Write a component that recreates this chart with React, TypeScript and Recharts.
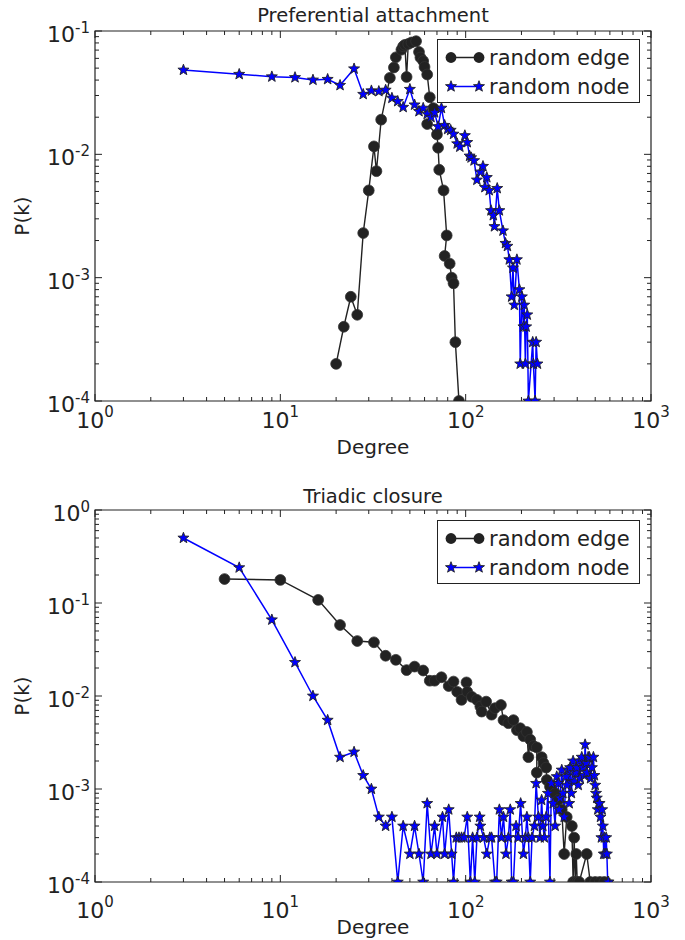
import React from 'react';
import { LineChart, Line, XAxis, YAxis, ReferenceArea, Legend } from 'recharts';

const FONT = '"DejaVu Sans", Verdana, sans-serif';
const INK = '#222222';
const BLUE = '#0000ff';

const seriesNames = ['random edge', 'random node'];
const titles = ['Preferential attachment', 'Triadic closure'];
const xLabel = 'Degree';
const yLabel = 'P(k)';

// Preferential attachment, random edge
const paEdgeK = [20, 22, 24, 26, 28, 30, 32, 33, 35, 39, 41, 42, 45, 46, 47, 48, 49, 51, 54, 56, 57, 59, 60, 62, 64, 67, 62, 70, 71, 72, 76, 79, 77, 82, 84, 86, 88, 92];
const paEdgeP = [0.0002, 0.0004, 0.0007, 0.0005, 0.0023, 0.0051, 0.0116, 0.0073, 0.0191, 0.0417, 0.0506, 0.0612, 0.0705, 0.0751, 0.0772, 0.0424, 0.0785, 0.0807, 0.0827, 0.0676, 0.061, 0.0571, 0.0511, 0.0444, 0.029, 0.0237, 0.0176, 0.0145, 0.0113, 0.0075, 0.0051, 0.0022, 0.0015, 0.0013, 0.001, 0.0009, 0.0003, 0.0001];

// Preferential attachment, random node
const paNodeK = [3, 6, 9, 12, 15, 18, 21, 25, 28, 31, 34, 37, 40, 43, 46, 50, 53, 56, 59, 62, 65, 68, 71, 74, 77, 80, 83, 86, 90, 93, 99, 102, 105, 107, 111, 115, 120, 124, 127, 130, 134, 137, 141, 143, 148, 152, 159, 164, 168, 172, 177, 180, 183, 189, 195, 197, 201, 205, 207, 210, 212, 215, 218, 230, 232, 237, 240, 244];
const paNodeP = [0.0483, 0.0446, 0.0426, 0.042, 0.0401, 0.0406, 0.0363, 0.0494, 0.0307, 0.0328, 0.0324, 0.0332, 0.0286, 0.0269, 0.0241, 0.0337, 0.0252, 0.0223, 0.0237, 0.0212, 0.02, 0.0218, 0.0168, 0.0237, 0.0172, 0.016, 0.0157, 0.0146, 0.0122, 0.0115, 0.0142, 0.0125, 0.0097, 0.0094, 0.0089, 0.0062, 0.0072, 0.008, 0.0054, 0.0065, 0.0051, 0.0035, 0.0032, 0.0026, 0.0053, 0.0035, 0.0024, 0.0019, 0.0018, 0.0014, 0.0007, 0.0012, 0.0006, 0.0014, 0.0008, 0.0002, 0.0007, 0.0004, 0.0006, 0.0002, 0.0004, 0.0005, 0.0001, 0.0003, 0.0002, 0.0001, 0.0003, 0.0002];

// Triadic closure, random edge
const tcEdgeK = [5, 10, 16, 21, 26, 32, 37, 42, 48, 53, 59, 64, 68, 74, 81, 86, 90, 95, 101, 102, 108, 115, 120, 122, 129, 138, 144, 155, 160, 170, 181, 189, 197, 205, 214, 218, 223, 232, 242, 242, 257, 263, 272, 274, 285, 304, 316, 330, 340, 351, 374, 380, 385, 390, 395, 400, 410, 450, 470, 500, 530, 560];
const tcEdgeP = [0.181, 0.177, 0.108, 0.058, 0.039, 0.0378, 0.0271, 0.0245, 0.019, 0.0207, 0.0188, 0.0146, 0.0146, 0.0159, 0.0128, 0.0143, 0.0111, 0.0091, 0.014, 0.0111, 0.0098, 0.0091, 0.0077, 0.0068, 0.0087, 0.0063, 0.0074, 0.008, 0.0055, 0.0051, 0.0055, 0.0043, 0.0045, 0.0037, 0.0041, 0.0022, 0.0034, 0.0029, 0.0028, 0.0015, 0.0022, 0.0019, 0.0017, 0.00125, 0.00106, 0.0009, 0.00076, 0.0006, 0.0002, 0.0005, 0.0004, 0.0001, 0.0003, 0.0001, 0.0002, 0.0001, 0.0001, 0.0002, 0.0001, 0.0001, 0.0001, 0.0001];

// Triadic closure, random node
const tcNodeK = [3, 6, 9, 12, 15, 18, 21, 25, 28, 31, 34, 37, 40, 43, 46, 50, 53, 56, 59, 62, 65, 68, 70, 75, 77, 81, 84, 86, 89, 92, 95, 98, 102, 106, 109, 112, 115, 119, 120, 125, 130, 135, 138, 144, 147, 152, 156, 160, 165, 170, 174, 177, 181, 187, 192, 198, 205, 210, 214, 218, 223, 228, 235, 240, 247, 252, 257, 261, 266, 272, 278, 285, 290, 297, 304, 310, 316, 320, 323, 330, 335, 340, 348, 352, 358, 362, 366, 372, 380, 386, 392, 398, 405, 410, 415, 423, 430, 436, 441, 446, 451, 458, 465, 472, 480, 489, 495, 500, 505, 510, 516, 522, 528, 534, 540, 545, 550, 556, 560, 566, 573, 578, 584, 590];
const tcNodeP = [0.5, 0.24, 0.066, 0.023, 0.01, 0.0055, 0.0022, 0.0025, 0.0014, 0.001, 0.0005, 0.0004, 0.0005, 0.0001, 0.0004, 0.0002, 0.0004, 0.0002, 0.0001, 0.0007, 0.0002, 0.0004, 0.0002, 0.0005, 0.0002, 0.0006, 0.0002, 0.0001, 0.0003, 0.0003, 0.0003, 0.0003, 0.0005, 0.0001, 0.0003, 0.0001, 0.0003, 0.0005, 0.0004, 0.0003, 0.0002, 0.0003, 0.0003, 0.0001, 0.0001, 0.0006, 0.0003, 0.0005, 0.0002, 0.0003, 0.0006, 0.0001, 0.0001, 0.0004, 0.0003, 0.0007, 0.0002, 0.0003, 0.0005, 0.0003, 0.0001, 0.0003, 0.0004, 0.00115, 0.0005, 0.0003, 0.00076, 0.0004, 0.0003, 0.0005, 0.0009, 0.0001, 0.00115, 0.0007, 0.0004, 0.00136, 0.00115, 0.0006, 0.0008, 0.0016, 0.0009, 0.0005, 0.00136, 0.0011, 0.0016, 0.0007, 0.0017, 0.0009, 0.002, 0.0012, 0.0015, 0.0017, 0.0011, 0.002, 0.0013, 0.0022, 0.0017, 0.0014, 0.003, 0.0019, 0.0015, 0.0022, 0.0022, 0.0013, 0.0017, 0.0022, 0.0014, 0.0011, 0.0009, 0.0008, 0.0006, 0.0007, 0.0007, 0.0005, 0.0003, 0.0006, 0.0004, 0.0002, 0.0003, 0.0002, 0.0003, 0.0002, 0.0001, 0.0001];

const xDecades = [1, 10, 100, 1000];
const yDecadesTop = [1e-4, 1e-3, 1e-2, 1e-1];
const yDecadesBottom = [1e-4, 1e-3, 1e-2, 1e-1, 1];

const W = 685;
const H = 470;

const withMinors = (decades: number[]) => {
  const out: number[] = [];
  decades.forEach((d, i) => {
    out.push(d);
    if (i < decades.length - 1) for (let m = 2; m <= 9; m++) out.push(d * m);
  });
  return out;
};

const toRows = (ks: number[], ps: number[]) => ks.map((k, i) => ({ k, p: ps[i] }));

const isDecade = (v: number) => Math.abs(Math.log10(v) - Math.round(Math.log10(v))) < 1e-6;

const starPath = (cx: number, cy: number, R: number, r: number) => {
  let d = '';
  for (let i = 0; i < 10; i++) {
    const a = -Math.PI / 2 + (i * Math.PI) / 5;
    const rad = i % 2 === 0 ? R : r;
    d += (i === 0 ? 'M' : 'L') + (cx + rad * Math.cos(a)).toFixed(2) + ',' + (cy + rad * Math.sin(a)).toFixed(2);
  }
  return d + 'Z';
};

const CircleDot = (props: any) => {
  const { cx, cy, index } = props;
  if (cx == null || cy == null) return <g key={`c${index}`} />;
  return <circle key={`c${index}`} cx={cx} cy={cy} r={5.4} fill={INK} stroke="#333" strokeWidth={0.8} />;
};

const StarDot = (props: any) => {
  const { cx, cy, index } = props;
  if (cx == null || cy == null) return <g key={`s${index}`} />;
  return <path key={`s${index}`} d={starPath(cx, cy, 5.8, 2.4)} fill={BLUE} stroke={INK} strokeWidth={0.9} />;
};

const makeXTick = (plotH: number, labelDy: number) => (props: any) => {
  const { x, y, payload } = props;
  const v = payload.value;
  const major = isDecade(v);
  const len = major ? 7 : 4;
  return (
    <g>
      <line x1={x} x2={x} y1={y} y2={y - len} stroke={INK} strokeWidth={1} />
      <line x1={x} x2={x} y1={y - plotH} y2={y - plotH + len} stroke={INK} strokeWidth={1} />
      {major && (
        <text x={x} y={y + labelDy} textAnchor="middle" fontFamily={FONT} fill={INK}>
          <tspan fontSize={22}>10</tspan>
          <tspan fontSize={15} dy={-11}>{Math.round(Math.log10(v))}</tspan>
        </text>
      )}
    </g>
  );
};

const makeYTick = (plotW: number) => (props: any) => {
  const { x, y, payload } = props;
  const v = payload.value;
  const major = isDecade(v);
  const len = major ? 7 : 4;
  return (
    <g>
      <line x1={x} x2={x + len} y1={y} y2={y} stroke={INK} strokeWidth={1} />
      <line x1={x + plotW} x2={x + plotW - len} y1={y} y2={y} stroke={INK} strokeWidth={1} />
      {major && (
        <text x={x - 5} y={y + 11} textAnchor="end" fontFamily={FONT} fill={INK}>
          <tspan fontSize={22}>10</tspan>
          <tspan fontSize={15} dy={-9}>{Math.round(Math.log10(v))}</tspan>
        </text>
      )}
    </g>
  );
};

const LegendBox = () => (
  <div
    style={{
      width: 203,
      height: 64,
      border: `1px solid ${INK}`,
      background: '#fff',
      fontFamily: FONT,
      fontSize: 21,
      color: INK,
      boxSizing: 'border-box',
      paddingTop: 3,
    }}
  >
    {seriesNames.map((name, i) => (
      <div key={name} style={{ display: 'flex', alignItems: 'center', height: 29 }}>
        <svg width={51} height={29} style={{ flex: 'none' }}>
          <line x1={13} x2={41} y1={14.5} y2={14.5} stroke={i === 0 ? INK : BLUE} strokeWidth={1.5} />
          {i === 0 ? (
            <>
              <circle cx={13} cy={14.5} r={5.4} fill={INK} />
              <circle cx={41} cy={14.5} r={5.4} fill={INK} />
            </>
          ) : (
            <>
              <path d={starPath(13, 14.5, 5.8, 2.4)} fill={BLUE} stroke={INK} strokeWidth={0.9} />
              <path d={starPath(41, 14.5, 5.8, 2.4)} fill={BLUE} stroke={INK} strokeWidth={0.9} />
            </>
          )}
        </svg>
        <span style={{ whiteSpace: 'nowrap' }}>{name}</span>
      </div>
    ))}
  </div>
);

type PanelProps = {
  top: number;
  marginTop: number;
  xAxisH: number;
  yDecades: number[];
  edge: { k: number; p: number }[];
  node: { k: number; p: number }[];
  title: string;
  titleY: number;
  xLabelY: number;
  yLabelY: number;
  legendTop: number;
  tickDy: number;
};

const Panel = ({ top, marginTop, xAxisH, yDecades, edge, node, title, titleY, xLabelY, yLabelY, legendTop, tickDy }: PanelProps) => {
  const left = 95;
  const right = 34;
  const plotW = W - left - right;
  const plotH = H - marginTop - xAxisH;
  const yMin = yDecades[0];
  const yMax = yDecades[yDecades.length - 1];
  const text: React.CSSProperties = {
    position: 'absolute',
    fontFamily: FONT,
    color: INK,
    whiteSpace: 'nowrap',
    lineHeight: 1,
  };
  return (
    <div style={{ position: 'absolute', left: 0, top, width: W, height: H }}>
      <LineChart width={W} height={H} margin={{ top: marginTop, right, bottom: 0, left: 0 }}>
        <XAxis
          dataKey="k"
          type="number"
          scale="log"
          domain={[1, 1000]}
          ticks={withMinors(xDecades)}
          interval={0}
          allowDataOverflow
          height={xAxisH}
          tickSize={0}
          tickMargin={0}
          tickLine={false}
          axisLine={false}
          tick={makeXTick(plotH, tickDy)}
        />
        <YAxis
          type="number"
          scale="log"
          domain={[yMin, yMax]}
          ticks={withMinors(yDecades)}
          interval={0}
          allowDataOverflow
          width={left}
          tickSize={0}
          tickMargin={0}
          tickLine={false}
          axisLine={false}
          tick={makeYTick(plotW)}
        />
        <Line
          data={edge}
          dataKey="p"
          name={seriesNames[0]}
          stroke={INK}
          strokeWidth={1.4}
          dot={CircleDot}
          activeDot={false}
          isAnimationActive={false}
        />
        <Line
          data={node}
          dataKey="p"
          name={seriesNames[1]}
          stroke={BLUE}
          strokeWidth={1.5}
          dot={StarDot}
          activeDot={false}
          isAnimationActive={false}
        />
        <ReferenceArea x1={1} x2={1000} y1={yMin} y2={yMax} fill="none" stroke={INK} strokeWidth={1.2} ifOverflow="visible" />
        <Legend
          layout="vertical"
          align="center"
          verticalAlign="middle"
          content={LegendBox}
          wrapperStyle={{ position: 'absolute', left: 437, top: legendTop, width: 203, height: 64 }}
        />
      </LineChart>
      <div style={{ ...text, left: left + plotW / 2, top: titleY, fontSize: 19.5, transform: 'translate(-50%, -50%)' }}>{title}</div>
      <div style={{ ...text, left: left + plotW / 2, top: xLabelY, fontSize: 20, transform: 'translate(-50%, -50%)' }}>{xLabel}</div>
      <div style={{ ...text, left: 22, top: yLabelY, fontSize: 20, transform: 'translate(-50%, -50%) rotate(-90deg)' }}>{yLabel}</div>
    </div>
  );
};

export default function App() {
  return (
    <div style={{ position: 'absolute', left: 0, top: 0, width: W, height: 940, background: '#fff' }}>
      <Panel
        top={0}
        marginTop={31}
        xAxisH={69}
        yDecades={yDecadesTop}
        edge={toRows(paEdgeK, paEdgeP)}
        node={toRows(paNodeK, paNodeP)}
        title={titles[0]}
        titleY={16}
        xLabelY={447}
        yLabelY={216}
        legendTop={39}
        tickDy={27}
      />
      <Panel
        top={470}
        marginTop={40}
        xAxisH={58}
        yDecades={yDecadesBottom}
        edge={toRows(tcEdgeK, tcEdgeP)}
        node={toRows(tcNodeK, tcNodeP)}
        title={titles[1]}
        titleY={27}
        xLabelY={457}
        yLabelY={226}
        legendTop={50}
        tickDy={36}
      />
    </div>
  );
}
